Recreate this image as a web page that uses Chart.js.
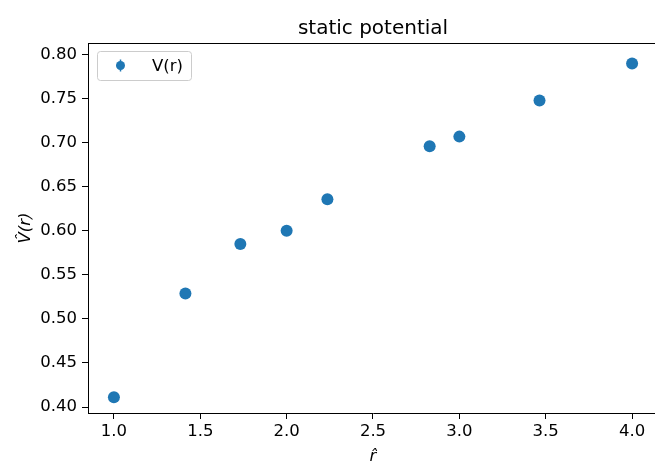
<!DOCTYPE html>
<html>
<head>
<meta charset="utf-8">
<script src="https://cdn.jsdelivr.net/npm/chart.js@4/dist/chart.umd.min.js"></script>
<style>
  html, body { margin: 0; padding: 0; background: #fff; overflow: hidden; }
  canvas { display: block; }
</style>
</head>
<body>
<canvas id="chart" width="664" height="463"></canvas>
<script>
// r values (sqrt of lattice distances) and the measured potential
const rValues = [1.0, 1.414, 1.732, 2.0, 2.236, 2.828, 3.0, 3.464, 4.0];
const vValues = [0.411, 0.529, 0.585, 0.600, 0.636, 0.696, 0.707, 0.748, 0.790];
const xTicks = [1.0, 1.5, 2.0, 2.5, 3.0, 3.5, 4.0];
const yTicks = [0.40, 0.45, 0.50, 0.55, 0.60, 0.65, 0.70, 0.75, 0.80];

const blue = '#1f77b4';
const font = 'DejaVu Sans';

// top spine + legend box drawn inside the axes (matplotlib style)
const frameAndLegend = {
    id: 'frameAndLegend',
    afterDraw(chart) {
        const { ctx, chartArea: a } = chart;
        ctx.save();
        ctx.strokeStyle = '#000';
        ctx.lineWidth = 1;
        ctx.beginPath();
        ctx.moveTo(a.left, a.top + 0.5);
        ctx.lineTo(a.right, a.top + 0.5);
        ctx.lineTo(a.right - 0.5, a.bottom);
        ctx.stroke();

        // legend box
        const x = a.left + 9, y = a.top + 8, w = 94, h = 29, r = 3;
        ctx.fillStyle = 'rgba(255,255,255,0.8)';
        ctx.strokeStyle = '#cccccc';
        ctx.beginPath();
        ctx.roundRect(x + 0.5, y + 0.5, w, h, r);
        ctx.fill();
        ctx.stroke();

        const ds = chart.data.datasets[0];
        const mx = x + 23.5, my = y + 14.5;
        ctx.strokeStyle = ds.backgroundColor;
        ctx.lineWidth = 1.5;
        ctx.beginPath();
        ctx.moveTo(mx, my - 6);
        ctx.lineTo(mx, my + 6);
        ctx.stroke();
        ctx.fillStyle = ds.backgroundColor;
        ctx.beginPath();
        ctx.arc(mx, my, 4.5, 0, Math.PI * 2);
        ctx.fill();

        ctx.fillStyle = '#000';
        ctx.font = '16.5px "' + font + '"';
        ctx.textBaseline = 'middle';
        ctx.fillText(ds.label, x + 55, my + 1);
        ctx.restore();
    }
};

new Chart(document.getElementById('chart'), {
    type: 'scatter',
    data: {
        datasets: [{
            label: 'V(r)',
            data: rValues.map((r, i) => ({ x: r, y: vValues[i] })),
            backgroundColor: blue,
            borderColor: blue,
            pointRadius: 6,
            pointHoverRadius: 6,
            borderWidth: 0
        }]
    },
    options: {
        responsive: false,
        animation: false,
        layout: { padding: { left: 0, right: 1, top: 0, bottom: 0 } },
        plugins: {
            legend: { display: false },
            tooltip: { enabled: false },
            title: {
                display: true,
                fullSize: false,
                text: 'static potential',
                color: '#000',
                font: { family: font, size: 20, weight: 'normal' },
                padding: { top: 17, bottom: 2 }
            }
        },
        scales: {
            x: {
                type: 'linear',
                min: 0.85,
                max: 4.15,
                afterBuildTicks: s => { s.ticks = xTicks.map(v => ({ value: v })); },
                afterFit: s => { s.height = 50; },
                grid: { drawOnChartArea: false, drawTicks: true, tickLength: 6, color: '#000' },
                border: { display: true, color: '#000', width: 1 },
                ticks: {
                    color: '#000',
                    padding: 3,
                    font: { family: font, size: 16.5 },
                    callback: v => v.toFixed(1)
                },
                title: {
                    display: true,
                    text: 'r\u0302',
                    color: '#000',
                    font: { family: font, size: 16.5, style: 'italic', lineHeight: 0.8 },
                    padding: { top: 0, bottom: 0 }
                }
            },
            y: {
                type: 'linear',
                min: 0.3932,
                max: 0.8133,
                afterBuildTicks: s => { s.ticks = yTicks.map(v => ({ value: v })); },
                afterFit: s => { s.width = 88; },
                grid: { drawOnChartArea: false, drawTicks: true, tickLength: 6, color: '#000' },
                border: { display: true, color: '#000', width: 1 },
                ticks: {
                    color: '#000',
                    padding: 5,
                    font: { family: font, size: 16.5 },
                    callback: v => v.toFixed(2)
                },
                title: {
                    display: true,
                    text: 'V\u0302(r)',
                    color: '#000',
                    font: { family: font, size: 16.5, style: 'italic' },
                    padding: { top: 16, bottom: 0 }
                }
            }
        }
    },
    plugins: [frameAndLegend]
});
</script>
</body>
</html>
